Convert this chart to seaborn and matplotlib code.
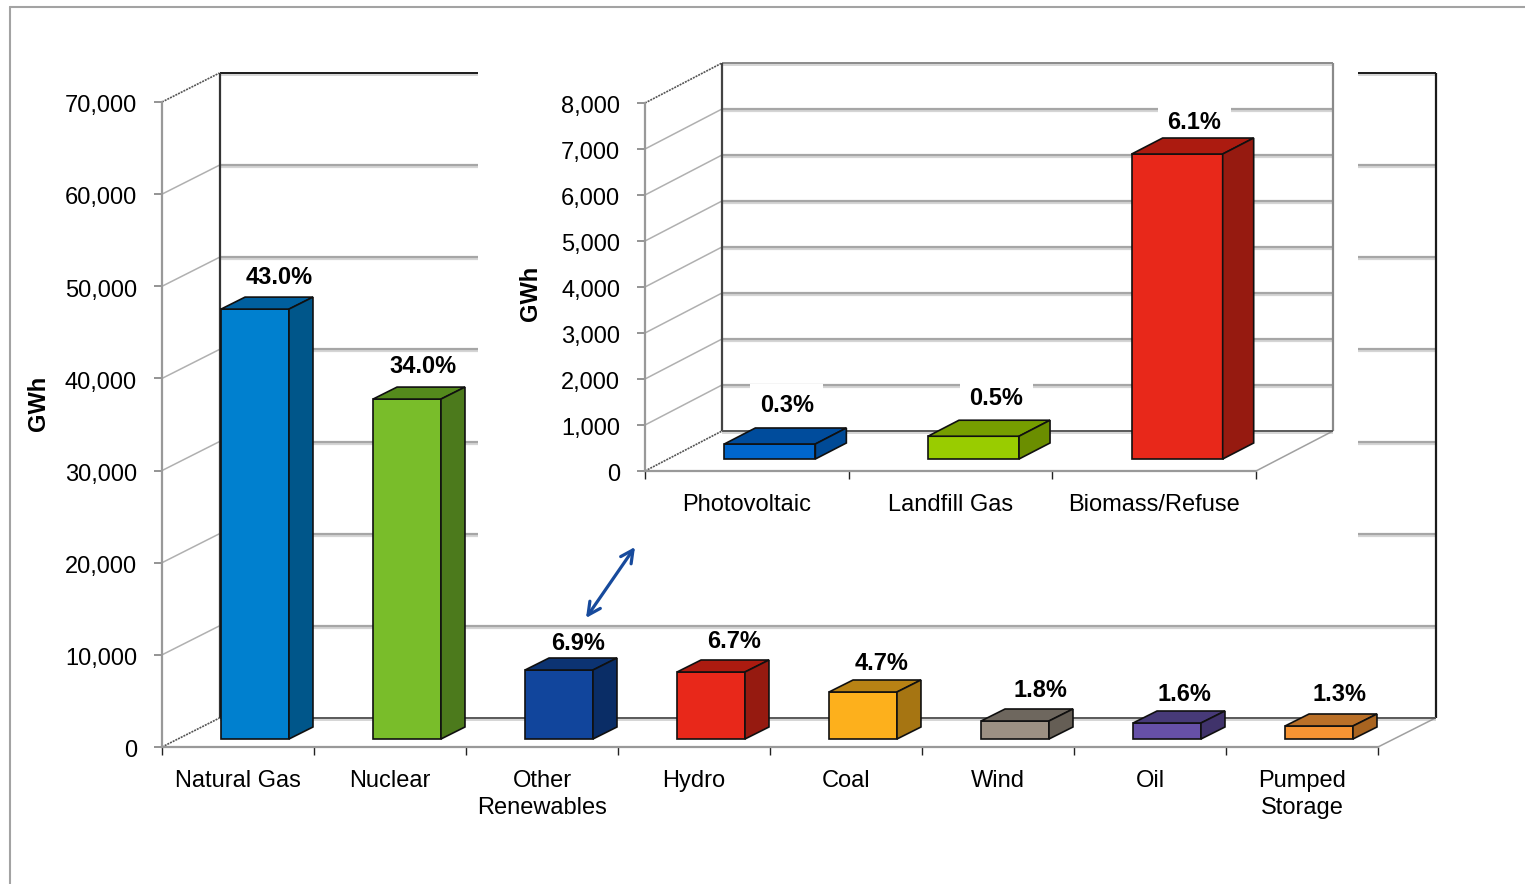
import matplotlib
matplotlib.use("Agg")
import matplotlib.pyplot as plt
import matplotlib.patheffects as pe
from matplotlib.lines import Line2D
from matplotlib.patches import Polygon
from matplotlib.ticker import StrMethodFormatter
from matplotlib.transforms import Affine2D
import pandas as pd
import seaborn as sns

# Generation by source, GWh, with the share of the total that each one represents
sources = ["Natural Gas", "Nuclear", "Other\nRenewables", "Hydro", "Coal", "Wind", "Oil", "Pumped\nStorage"]
gwh = [46655, 36890, 7487, 7270, 5100, 1953, 1736, 1411]
shares = ["43.0%", "34.0%", "6.9%", "6.7%", "4.7%", "1.8%", "1.6%", "1.3%"]
front_colors = ["#0080CF", "#79BD2A", "#11459C", "#E8281A", "#FDB01C", "#9C9083", "#6650A8", "#F79433"]
side_colors = ["#00568A", "#4C7A1C", "#0A2D66", "#961A10", "#A67512", "#655E55", "#40336B", "#A86420"]
top_colors = ["#005F9E", "#548A1C", "#0C3372", "#AC1B10", "#B88214", "#6E675E", "#473A78", "#BA7028"]
label_dx = [0.5, -8.5, -5, -1, -5, 1, -6.5, -4]
label_dy = [20, 21, 15, 19, 17, 19, 17, 19]

# Breakdown of the "Other Renewables" bar
detail_sources = ["Photovoltaic", "Landfill Gas", "Biomass/Refuse"]
detail_gwh = [326, 495, 6630]
detail_shares = ["0.3%", "0.5%", "6.1%"]
detail_front = ["#0066CC", "#99CC00", "#E8281A"]
detail_side = ["#004A96", "#6B8E00", "#961A10"]
detail_top = ["#004C9C", "#769E00", "#AC1B10"]
detail_dx = [-14, -8, -14]
detail_dy = [23, 22, 16]

W, H = 1525, 884
FONT = 17

sns.set_theme(style="white")
plt.rcParams["font.family"] = ["Liberation Sans", "DejaVu Sans"]
plt.rcParams["text.color"] = "#000000"

fig = plt.figure(figsize=(W / 100, H / 100), dpi=100, facecolor="white")


def axes_at(left, right, top, bottom, **kw):
    return fig.add_axes([left / W, 1 - bottom / H, (right - left) / W, (bottom - top) / H], **kw)


def stroke(ax, xs, ys, color, lw=1.5, shadow=True, z=1, ls="-"):
    effects = None
    if shadow:
        effects = [pe.SimpleLineShadow(offset=(0, -1.4), shadow_color="#888888", alpha=0.35), pe.Normal()]
    ax.plot(xs, ys, color=color, lw=lw, ls=ls, clip_on=False, zorder=z, path_effects=effects,
            solid_capstyle="butt")


def pseudo_3d_bars(ax, names, values, shares, fronts, sides, tops, ymax, step,
                   wall, inset, depth, bar_width, wall_dark, frame_color,
                   dxs, dys, boxed, tick_pad):
    n = len(names)
    box = ax.get_position()
    px_x = box.width * W / n
    px_y = box.height * H / ymax

    frame = pd.DataFrame({"source": names, "gwh": values})
    sns.barplot(data=frame, x="source", y="gwh", hue="source", palette=fronts, saturation=1,
                width=bar_width, legend=False, ax=ax, edgecolor="#101010", linewidth=1.2, zorder=4)
    ax.set_xlim(-0.5, n - 0.5)
    ax.set_ylim(0, ymax)
    ax.patch.set_alpha(0)

    wx, wy = wall[0] / px_x, wall[1] / px_y
    x0, x1 = -0.5, n - 0.5

    # Back wall, side wall and floor
    ticks = list(range(0, ymax + 1, step))
    for t in ticks[1:-1]:
        stroke(ax, [x0 + wx, x1 + wx], [t + wy, t + wy], "#a6a6a6", lw=1.6)
        stroke(ax, [x0, x0 + wx], [t, t + wy], "#b0b0b0", lw=1.1, shadow=False)
    stroke(ax, [x0 + wx, x1 + wx], [ymax + wy, ymax + wy], frame_color, lw=1.4)
    stroke(ax, [x0, x0 + wx], [ymax, ymax + wy], "#555555", lw=1.2, shadow=False, ls=(0, (1.2, 0.6)))
    stroke(ax, [x0 + wx, x0 + wx], [wy, ymax + wy], wall_dark, lw=1.6, shadow=False, z=2)
    stroke(ax, [x1 + wx, x1 + wx], [wy, ymax + wy], frame_color, lw=1.6, shadow=False, z=2)
    stroke(ax, [x0 + wx, x1 + wx], [wy, wy], "#595959", lw=1.4, z=2)
    stroke(ax, [x0, x0 + wx], [0, wy], "#555555", lw=1.2, shadow=False, ls=(0, (1.2, 0.6)))
    stroke(ax, [x1, x1 + wx], [0, wy], "#a0a0a0", lw=1.1, shadow=False)

    # Move the bars onto the floor, then add their top and side faces
    sx, sy = inset[0] / px_x, inset[1] / px_y
    dx, dy = depth[0] / px_x, depth[1] / px_y
    for i, patch in enumerate(ax.patches):
        patch.set_x(patch.get_x() + sx)
        patch.set_y(sy)
        left = patch.get_x()
        right = left + patch.get_width()
        low = patch.get_y()
        high = low + patch.get_height()
        ax.add_patch(Polygon([(left, high), (right, high), (right + dx, high + dy), (left + dx, high + dy)],
                             closed=True, facecolor=tops[i], edgecolor="#101010", lw=1.2,
                             zorder=4, clip_on=False))
        ax.add_patch(Polygon([(right, low), (right, high), (right + dx, high + dy), (right + dx, low + dy)],
                             closed=True, facecolor=sides[i], edgecolor="#101010", lw=1.2,
                             zorder=4, clip_on=False))
        text = ax.annotate(shares[i], xy=((left + right) / 2 + dx, high + dy),
                           xytext=(dxs[i], dys[i]), textcoords="offset pixels",
                           ha="center", va="center", fontsize=FONT, fontweight="bold",
                           color="#000000", zorder=3, annotation_clip=False)
        if boxed:
            text.set_bbox(dict(boxstyle="square,pad=0.4", facecolor="white", edgecolor="none"))

    # Front plane axes
    sns.despine(ax=ax)
    for name in ("left", "bottom"):
        ax.spines[name].set_color("#999999")
        ax.spines[name].set_linewidth(1.6)
    ax.spines["left"].set_zorder(2)
    ax.set_yticks(ticks)
    ax.yaxis.set_major_formatter(StrMethodFormatter("{x:,.0f}"))
    ax.tick_params(axis="y", which="major", left=True, length=5.5, width=1.1, color="#777777",
                   labelsize=FONT, labelcolor="#000000", pad=12.5)
    ax.set_xticks([i - 0.5 for i in range(n + 1)])
    ax.set_xticklabels([])
    ax.set_xticks(list(range(n)), labels=[s for s in names], minor=True)
    ax.tick_params(axis="x", which="major", bottom=True, length=6, width=1.0, color="#222222")
    ax.tick_params(axis="x", which="minor", bottom=False, length=0, labelsize=FONT,
                   labelcolor="#000000", pad=tick_pad)
    for label in ax.get_xticklabels(minor=True):
        label.set_linespacing(1.3)
    # Value labels sit slightly below their tick marks
    for label in ax.get_yticklabels():
        label.set_transform(label.get_transform() + Affine2D().translate(0, -1.8))
    ax.set_xlabel("")
    ax.grid(False)


# Outer frame, open towards the right and bottom
for xs, ys in (([10, W], [7, 7]), ([10, 10], [7, H])):
    fig.add_artist(Line2D([x / W for x in xs], [1 - y / H for y in ys], color="#a3a3a3", lw=1.5))

main = axes_at(162, 1378, 102, 747, zorder=1)
pseudo_3d_bars(main, sources, gwh, shares, front_colors, side_colors, top_colors,
               70000, 10000, wall=(57.5, 29), inset=(17, 8), depth=(24, 12), bar_width=0.447,
               wall_dark="#333333", frame_color="#1a1a1a", dxs=label_dx, dys=label_dy,
               boxed=False, tick_pad=16.5)
main.set_ylabel("GWh", fontsize=FONT, fontweight="bold", color="#000000")
main.yaxis.set_label_coords((50 - 162) / 1216, (747 - 403) / 645)

# Blank panel that the detail chart sits on
panel = axes_at(478, 1358, 50, 545, zorder=2, facecolor="white")
panel.set_axis_off()
panel.add_patch(plt.Rectangle((0, 0), 1, 1, transform=panel.transAxes, facecolor="white", edgecolor="none"))

detail = axes_at(645, 1256, 103, 471, zorder=3)
pseudo_3d_bars(detail, detail_sources, detail_gwh, detail_shares, detail_front, detail_side, detail_top,
               8000, 1000, wall=(77, 40), inset=(23, 12), depth=(31, 16), bar_width=0.447,
               wall_dark="#444444", frame_color="#8a8a8a", dxs=detail_dx, dys=detail_dy,
               boxed=True, tick_pad=16.5)
detail.set_ylabel("GWh", fontsize=FONT, fontweight="bold", color="#000000")
detail.yaxis.set_label_coords((542 - 645) / 611, (471 - 293) / 368)

# Double-headed arrow linking the Other Renewables bar to its breakdown
detail.annotate("", xy=(586 / W, 1 - 618 / H), xytext=(635 / W, 1 - 547 / H),
                xycoords="figure fraction", textcoords="figure fraction",
                arrowprops=dict(arrowstyle="<->,head_length=0.75,head_width=0.38", color="#174a9c", lw=2.3,
                                shrinkA=0, shrinkB=0),
                annotation_clip=False)

fig.savefig("out.png", dpi=100, facecolor="white")
